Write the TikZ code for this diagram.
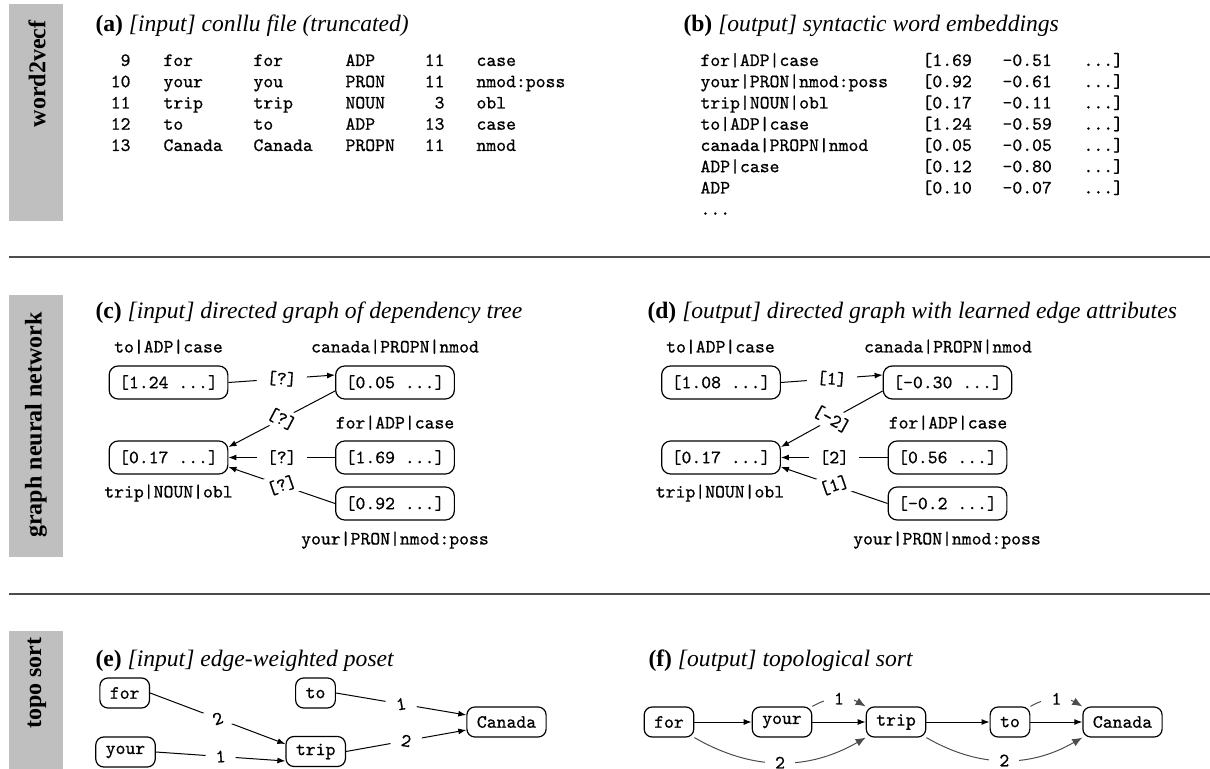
\documentclass[tikz,border=0pt]{standalone}
\usepackage{fontspec}
\setmainfont{Liberation Serif}
\setmonofont{lmmono10-regular.otf}[FakeBold=0.7]
\usetikzlibrary{arrows.meta}

\newcommand{\ttsz}{\fontsize{9.4}{10.625}\selectfont\ttfamily}

\tikzset{every picture/.style={line width=0.5pt}}
\tikzset{
  sidebar/.style={fill=gray!50, draw=none},
  sidetext/.style={rotate=90, inner sep=0pt, font=\fontsize{12}{14}\selectfont\bfseries},
  subtitle/.style={anchor=base west, inner sep=0pt, font=\fontsize{11.8}{14}\selectfont},
  coltext/.style={inner sep=0pt, font=\ttsz},
  vecbox/.style={draw, rounded corners=4.5pt, line width=0.6pt, inner xsep=5pt, minimum height=16.5pt, font=\ttsz},
  wordbox/.style={draw, rounded corners=4pt, line width=0.6pt, inner xsep=5pt, minimum height=15pt, font=\ttsz},
  nlabel/.style={anchor=base, inner sep=0pt, font=\ttsz},
  elabel/.style={fill=white, inner xsep=5pt, inner ysep=2pt, font=\ttsz, sloped},
  link/.style={-{Latex[length=4pt,width=3pt]}},
  bow/.style={-{Latex[length=5pt,width=4pt]}, draw=gray!60!black},
  sepline/.style={draw=gray!60!black, line width=0.8pt},
}

\begin{document}
\begin{tikzpicture}[x=0.5pt,y=0.5pt,yscale=-1]
\useasboundingbox (0,0) rectangle (1210,769);

%Shape: Side bars
\fill[sidebar] (9,4) rectangle (63,221);
\fill[sidebar] (9,295) rectangle (63,557);
\fill[sidebar] (9,631) rectangle (63,769);
\node[sidetext, anchor=east] (sw2v) at (37,20) {word2vecf};
\node[sidetext] (sgnn) at (36,425) {graph neural network};
\node[sidetext, anchor=east] (stopo) at (37,637) {topo sort};

%Straight Lines: separators
\draw[sepline] (9,257) -- (1210,257);
\draw[sepline] (9,594) -- (1210,594);

% Text Node: titles
\node[subtitle] (ta) at (95,32) {\textbf{(a)} \textit{[input] conllu file (truncated)}};
\node[subtitle] (tb) at (683,32) {\textbf{(b)} \textit{[output] syntactic word embeddings}};
\node[subtitle] (tc) at (95,319) {\textbf{(c)} \textit{[input] directed graph of dependency tree}};
\node[subtitle] (td) at (647,319) {\textbf{(d)} \textit{[output] directed graph with learned edge attributes}};
\node[subtitle] (te) at (95,667) {\textbf{(e)} \textit{[input] edge-weighted poset}};
\node[subtitle] (tf) at (648,667) {\textbf{(f)} \textit{[output] topological sort}};

% (a) conllu columns
\node[coltext, anchor=base east] (aid) at (131,66) {\begin{tabular}[t]{@{}r@{}}9\\10\\11\\12\\13\end{tabular}};
\node[coltext, anchor=base west] (aform) at (163,66) {\begin{tabular}[t]{@{}l@{}}for\\your\\trip\\to\\Canada\end{tabular}};
\node[coltext, anchor=base west] (alemma) at (253,66) {\begin{tabular}[t]{@{}l@{}}for\\you\\trip\\to\\Canada\end{tabular}};
\node[coltext, anchor=base west] (apos) at (345,66) {\begin{tabular}[t]{@{}l@{}}ADP\\PRON\\NOUN\\ADP\\PROPN\end{tabular}};
\node[coltext, anchor=base east] (ahead) at (445,66) {\begin{tabular}[t]{@{}r@{}}11\\11\\3\\13\\11\end{tabular}};
\node[coltext, anchor=base west] (arel) at (476,66) {\begin{tabular}[t]{@{}l@{}}case\\nmod:poss\\obl\\case\\nmod\end{tabular}};

% (b) embedding columns
\node[coltext, anchor=base west] (bname) at (700,66) {\begin{tabular}[t]{@{}l@{}}for|ADP|case\\your|PRON|nmod:poss\\trip|NOUN|obl\\to|ADP|case\\canada|PROPN|nmod\\ADP|case\\ADP\\...\end{tabular}};
\node[coltext, anchor=base west] (bdima) at (922,66) {\begin{tabular}[t]{@{}l@{}}{[}1.69\\{[}0.92\\{[}0.17\\{[}1.24\\{[}0.05\\{[}0.12\\{[}0.10\end{tabular}};
\node[coltext, anchor=base west] (bdimb) at (1002,66) {\begin{tabular}[t]{@{}l@{}}-0.51\\-0.61\\-0.11\\-0.59\\-0.05\\-0.80\\-0.07\end{tabular}};
\node[coltext, anchor=base west] (bdimc) at (1083,66) {\begin{tabular}[t]{@{}l@{}}...{]}\\...{]}\\...{]}\\...{]}\\...{]}\\...{]}\\...{]}\end{tabular}};

% (c) input graph
\node[vecbox] (c124) at (168.5,382.5) {[1.24 ...]};
\node[vecbox] (c005) at (395,382.5) {[0.05 ...]};
\node[vecbox] (c017) at (168.5,457.5) {[0.17 ...]};
\node[vecbox] (c169) at (395,457.5) {[1.69 ...]};
\node[vecbox] (c092) at (395,503.5) {[0.92 ...]};
\node[nlabel] (lc124) at (168.5,352.5) {to|ADP|case};
\node[nlabel] (lc005) at (395,352.5) {canada|PROPN|nmod};
\node[nlabel] (lc169) at (395,428.5) {for|ADP|case};
\node[nlabel] (lc092) at (395,544.5) {your|PRON|nmod:poss};
\node[nlabel] (lc017) at (168.5,497.5) {trip|NOUN|obl};
\draw[link] (c124.east) -- node[elabel] {[?]} ([yshift=-3.75pt]c005.west);
\draw[link] ([yshift=4.25pt]c005.west) -- node[elabel] {[?]} ([yshift=-5.25pt]c017.east);
\draw[link] (c169.west) -- node[elabel] {[?]} (c017.east);
\draw[link] (c092.west) -- node[elabel] {[?]} ([yshift=4.75pt]c017.east);

% (d) output graph
\node[vecbox] (d108) at (721,382.5) {[1.08 ...]};
\node[vecbox] (d030) at (947.5,382.5) {[-0.30 ...]};
\node[vecbox] (d017) at (721,457.5) {[0.17 ...]};
\node[vecbox] (d056) at (947.5,457.5) {[0.56 ...]};
\node[vecbox] (d020) at (947.5,503.5) {[-0.2 ...]};
\node[nlabel] (ld108) at (720.5,352.5) {to|ADP|case};
\node[nlabel] (ld030) at (948,352.5) {canada|PROPN|nmod};
\node[nlabel] (ld056) at (948,428.5) {for|ADP|case};
\node[nlabel] (ld020) at (947,544.5) {your|PRON|nmod:poss};
\node[nlabel] (ld017) at (720,497.5) {trip|NOUN|obl};
\draw[link] (d108.east) -- node[elabel] {[1]} ([yshift=-3.75pt]d030.west);
\draw[link] ([yshift=4.25pt]d030.west) -- node[elabel] {[-2]} ([yshift=-5.25pt]d017.east);
\draw[link] (d056.west) -- node[elabel] {[2]} (d017.east);
\draw[link] (d020.west) -- node[elabel] {[1]} ([yshift=4.75pt]d017.east);

% (e) poset
\node[wordbox] (efor) at (124.7,693) {for};
\node[wordbox] (eyour) at (125.5,752) {your};
\node[wordbox] (eto) at (315.5,693) {to};
\node[wordbox] (etrip) at (315.7,751.5) {trip};
\node[wordbox] (ecanada) at (506.5,722) {Canada};
\draw[link] (efor.east) -- node[elabel] {2} ([yshift=-3.75pt]etrip.west);
\draw[link] (eyour.east) -- node[elabel] {1} ([yshift=4.75pt]etrip.west);
\draw[link] (eto.east) -- node[elabel] {1} ([yshift=-3.5pt]ecanada.west);
\draw[link] (etrip.east) -- node[elabel] {2} ([yshift=4pt]ecanada.west);

% (f) sorted chain
\node[wordbox] (ffor) at (669,722) {for};
\node[wordbox] (fyour) at (782,722) {your};
\node[wordbox] (ftrip) at (896,722) {trip};
\node[wordbox] (fto) at (1010,722) {to};
\node[wordbox] (fcanada) at (1122.5,722) {Canada};
\draw[link] (ffor) -- (fyour);
\draw[link] (fyour) -- (ftrip);
\draw[link] (ftrip) -- (fto);
\draw[link] (fto) -- (fcanada);
\draw[bow] (fyour.north east) to[bend right] node[elabel] {1} (ftrip.north west);
\draw[bow] (fto.north east) to[bend right] node[elabel] {1} (fcanada.north west);
\draw[bow] (ffor.south east) to[bend left] node[elabel] {2} (ftrip.south west);
\draw[bow] (ftrip.south east) to[bend left] node[elabel] {2} (fcanada.south west);

\end{tikzpicture}
\end{document}
